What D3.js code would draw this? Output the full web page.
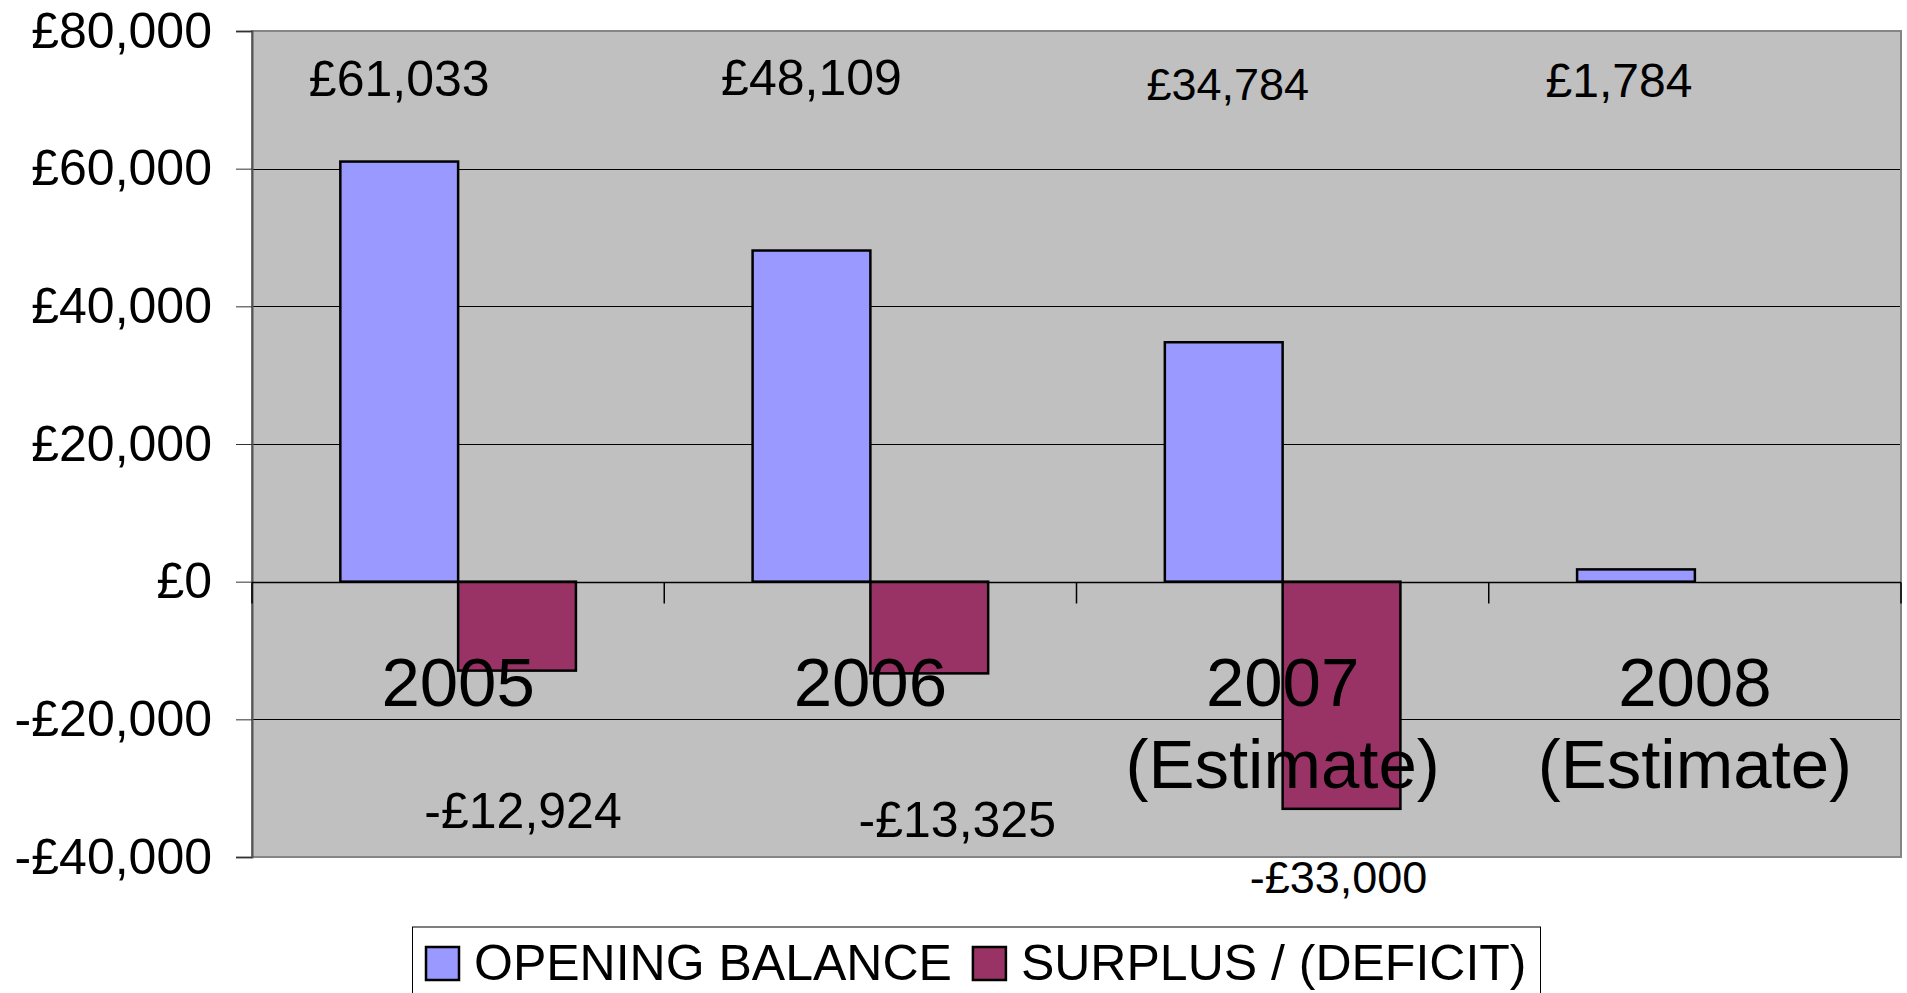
<!DOCTYPE html>
<html>
<head>
<meta charset="utf-8">
<script src="https://cdn.jsdelivr.net/npm/d3@7"></script>
<style>
  body { margin: 0; background: #fff; }
  svg { display: block; font-family: "Liberation Sans", Arial, sans-serif; }
</style>
</head>
<body>
<div id="chart"></div>
<script>
// data
const categories = ["2005", "2006", "2007\n(Estimate)", "2008\n(Estimate)"];
const openingBalance = [61033, 48109, 34784, 1784];
const surplusDeficit = [-12924, -13325, -33000, null];
const seriesNames = ["OPENING BALANCE", "SURPLUS / (DEFICIT)"];
const yTicks = [-40000, -20000, 0, 20000, 40000, 60000, 80000];

// layout (labels were hand placed in the original)
const width = 1907, height = 993;
const plot = { left: 252, top: 31, right: 1901, bottom: 857 };
const colors = ["#9999ff", "#993366"];
const topLabelNudge = [[0, 0], [0, -1], [4, 4], [-17, 1]];
const topLabelSize = [50, 50, 45, 48];
const bottomLabelNudge = [[6, 0], [28, 9], [-3, 65]];
const bottomLabelSize = [50, 50, 45];

const money = d => (d < 0 ? "-" : "") + "£" + d3.format(",")(Math.abs(d));

const svg = d3.select("#chart").append("svg")
  .attr("width", width)
  .attr("height", height);

const x0 = d3.scaleBand()
  .domain(categories)
  .range([plot.left, plot.right])
  .padding(0);

const x1 = d3.scaleBand()
  .domain(seriesNames)
  .range([0, x0.bandwidth()])
  .paddingInner(0)
  .paddingOuter(0.75);

const y = d3.scaleLinear()
  .domain([-40000, 80000])
  .range([plot.bottom, plot.top]);

//plot background
svg.append("rect")
  .attr("x", plot.left)
  .attr("y", plot.top)
  .attr("width", plot.right - plot.left)
  .attr("height", plot.bottom - plot.top)
  .attr("fill", "#c0c0c0");

//gridlines
svg.append("g")
  .selectAll("line")
  .data(yTicks.filter(d => d !== 0 && d !== 80000 && d !== -40000))
  .enter()
  .append("line")
  .attr("x1", plot.left)
  .attr("x2", plot.right)
  .attr("y1", d => Math.round(y(d)) + 0.5)
  .attr("y2", d => Math.round(y(d)) + 0.5)
  .attr("stroke", "#000")
  .attr("stroke-width", 1);

//bars
const series = [openingBalance, surplusDeficit];
const barData = [];
categories.forEach((c, i) => {
  series.forEach((s, j) => {
    if (s[i] != null) barData.push({ cat: c, name: seriesNames[j], value: s[i], j: j });
  });
});

svg.append("g")
  .selectAll("rect")
  .data(barData)
  .enter()
  .append("rect")
  .attr("x", d => x0(d.cat) + x1(d.name))
  .attr("y", d => y(Math.max(0, d.value)))
  .attr("width", x1.bandwidth())
  .attr("height", d => Math.abs(y(d.value) - y(0)))
  .attr("fill", d => colors[d.j])
  .attr("stroke", "#000")
  .attr("stroke-width", 2.5);

//plot border
svg.append("rect")
  .attr("x", plot.left)
  .attr("y", plot.top)
  .attr("width", plot.right - plot.left)
  .attr("height", plot.bottom - plot.top)
  .attr("fill", "none")
  .attr("stroke", "#858585")
  .attr("stroke-width", 2);

//y axis
const yAxis = svg.append("g")
  .attr("transform", "translate(" + plot.left + ",0)")
  .call(d3.axisLeft(y).tickValues(yTicks).tickSize(16).tickPadding(24).tickFormat(money));
yAxis.select(".domain").attr("stroke", "#555").attr("stroke-width", 2);
yAxis.selectAll(".tick line").attr("stroke", "#333");
yAxis.selectAll("text")
  .attr("font-size", 50)
  .attr("font-family", "Liberation Sans, Arial, sans-serif")
  .attr("fill", "#000");

//zero axis line and category ticks
const y0 = Math.round(y(0)) + 0.5;
svg.append("line")
  .attr("x1", plot.left)
  .attr("x2", plot.right)
  .attr("y1", y0)
  .attr("y2", y0)
  .attr("stroke", "#000")
  .attr("stroke-width", 1.5);

svg.append("g")
  .selectAll("line")
  .data(categories.map(c => x0(c)).concat([plot.right]))
  .enter()
  .append("line")
  .attr("x1", d => d)
  .attr("x2", d => d)
  .attr("y1", y0)
  .attr("y2", y0 + 21)
  .attr("stroke", "#000")
  .attr("stroke-width", 1.5);

//category labels
const catText = svg.append("g")
  .selectAll("text")
  .data(categories)
  .enter()
  .append("text")
  .attr("x", d => x0(d) + x0.bandwidth() / 2)
  .attr("y", y(0) + 124)
  .attr("text-anchor", "middle")
  .attr("font-size", 69)
  .attr("fill", "#000");

catText.selectAll("tspan")
  .data(d => d.split("\n"))
  .enter()
  .append("tspan")
  .attr("x", function() { return d3.select(this.parentNode).attr("x"); })
  .attr("dy", (d, i) => i === 0 ? 0 : 82)
  .text(d => d);

//data labels: opening balance (along the top)
svg.append("g")
  .selectAll("text")
  .data(openingBalance)
  .enter()
  .append("text")
  .attr("x", (d, i) => x0(categories[i]) + x1(seriesNames[0]) + x1.bandwidth() / 2 + topLabelNudge[i][0])
  .attr("y", (d, i) => plot.top + 65 + topLabelNudge[i][1])
  .attr("text-anchor", "middle")
  .attr("font-size", (d, i) => topLabelSize[i])
  .attr("fill", "#000")
  .text(money);

//data labels: surplus / deficit (below)
svg.append("g")
  .selectAll("text")
  .data(surplusDeficit.filter(d => d != null))
  .enter()
  .append("text")
  .attr("x", (d, i) => x0(categories[i]) + x1(seriesNames[1]) + x1.bandwidth() / 2 + bottomLabelNudge[i][0])
  .attr("y", (d, i) => y(0) + 246 + bottomLabelNudge[i][1])
  .attr("text-anchor", "middle")
  .attr("font-size", (d, i) => bottomLabelSize[i])
  .attr("fill", "#000")
  .text(money);

//legend
const legend = svg.append("g").attr("class", "legend");
const legendBox = legend.append("rect")
  .attr("y", 927)
  .attr("height", 80)
  .attr("fill", "#fff")
  .attr("stroke", "#000")
  .attr("stroke-width", 1);

let lx = 426;
seriesNames.forEach((name, j) => {
  legend.append("rect")
    .attr("x", lx)
    .attr("y", 947)
    .attr("width", 33)
    .attr("height", 33)
    .attr("fill", colors[j])
    .attr("stroke", "#000")
    .attr("stroke-width", 2.5);
  const t = legend.append("text")
    .attr("x", lx + 48)
    .attr("y", 980)
    .attr("font-size", 50)
    .attr("fill", "#000")
    .text(name);
  lx = lx + 48 + t.node().getComputedTextLength() + 21;
});
legendBox.attr("x", 412.5).attr("width", lx - 21 + 14 - 412.5);
</script>
</body>
</html>
